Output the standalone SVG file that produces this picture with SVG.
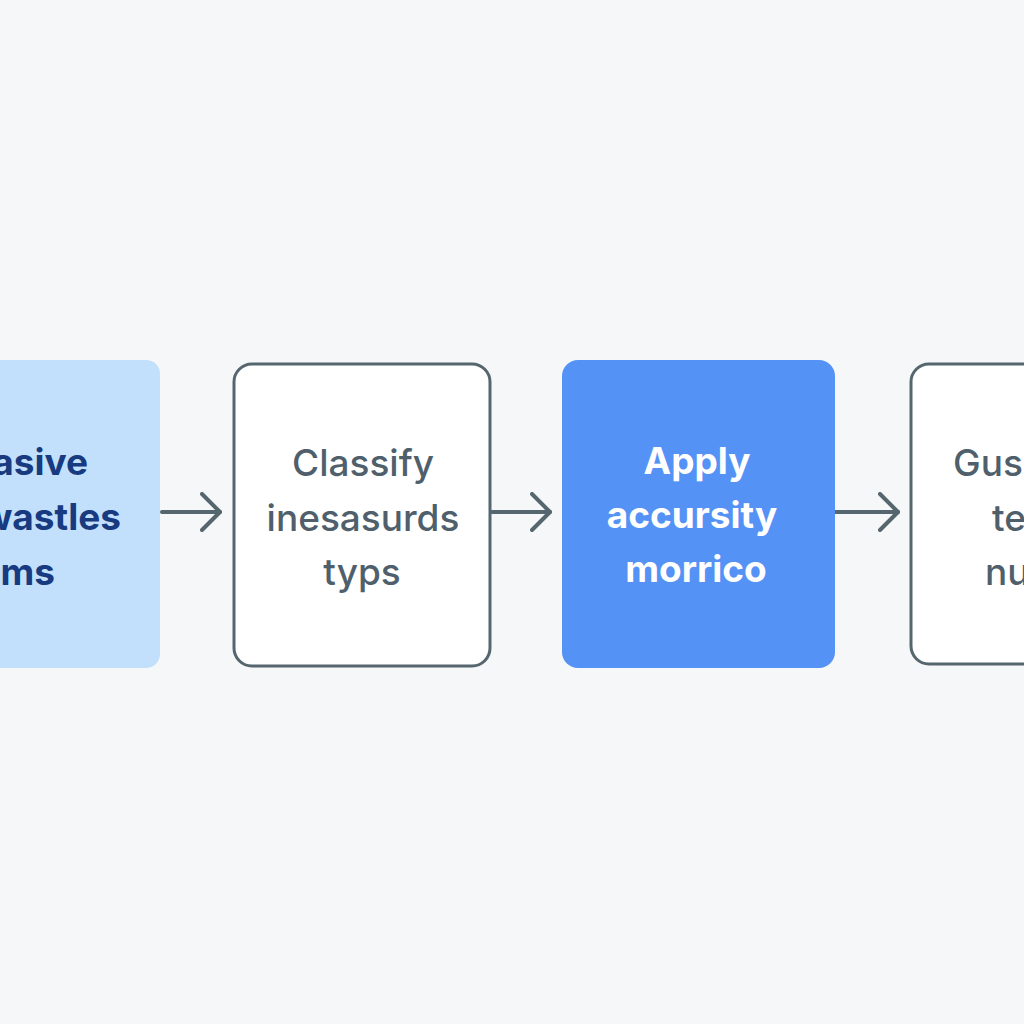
<svg xmlns="http://www.w3.org/2000/svg" width="1024" height="1024" viewBox="0 0 1024 1024">
<style>
.t{font-family:Inter,"Open Sans","Liberation Sans",sans-serif;font-size:37px;text-anchor:middle}
.grey{fill:#4f5f6b;font-weight:500}
.navy{fill:#173a80;font-weight:700}
.white{fill:#ffffff;font-weight:700}
.ol{fill:#ffffff;stroke:#56666f;stroke-width:3}
.conn{fill:none;stroke:#56666f;stroke-width:4;stroke-linecap:round;stroke-linejoin:round}
</style>
<defs>
<marker id="ah" viewBox="0 0 22 40" refX="20" refY="20" markerWidth="22" markerHeight="40" markerUnits="userSpaceOnUse" orient="auto">
<path d="M2,2 L20,20 L2,38" fill="none" stroke="#56666f" stroke-width="4" stroke-linecap="round" stroke-linejoin="round"/>
</marker>
</defs>
<rect width="1024" height="1024" fill="#f6f7f8"/>
<g id="connectors">
<line class="conn" x1="162" y1="512" x2="220" y2="512" marker-end="url(#ah)"/>
<line class="conn" x1="492" y1="512" x2="550" y2="512" marker-end="url(#ah)"/>
<line class="conn" x1="835" y1="512" x2="898" y2="512" marker-end="url(#ah)"/>
</g>
<g id="node1">
<rect x="-20" y="360" width="180" height="308" rx="14" fill="#c2e0fb"/>
<text class="t navy" x="88" y="475" style="text-anchor:end">asive</text>
<text class="t navy" x="121" y="530" style="text-anchor:end">wastles</text>
<text class="t navy" x="55" y="585" style="text-anchor:end">ms</text>
</g>
<g id="node2">
<rect class="ol" x="234" y="364" width="256" height="302" rx="18"/>
<text class="t grey" x="363" y="476">Classify</text>
<text class="t grey" x="363" y="531">inesasurds</text>
<text class="t grey" x="362" y="585">typs</text>
</g>
<g id="node3">
<rect x="562" y="360" width="273" height="308" rx="16" fill="#5592f5"/>
<text class="t white" x="697" y="474">Apply</text>
<text class="t white" x="692" y="528">accursity</text>
<text class="t white" x="696" y="582">morrico</text>
</g>
<g id="node4">
<rect class="ol" x="911" y="364" width="140" height="300" rx="18"/>
<text class="t grey" x="953" y="476" style="text-anchor:start">Gus</text>
<text class="t grey" x="992" y="531" style="text-anchor:start">te</text>
<text class="t grey" x="985" y="585" style="text-anchor:start">nu</text>
</g>
</svg>
